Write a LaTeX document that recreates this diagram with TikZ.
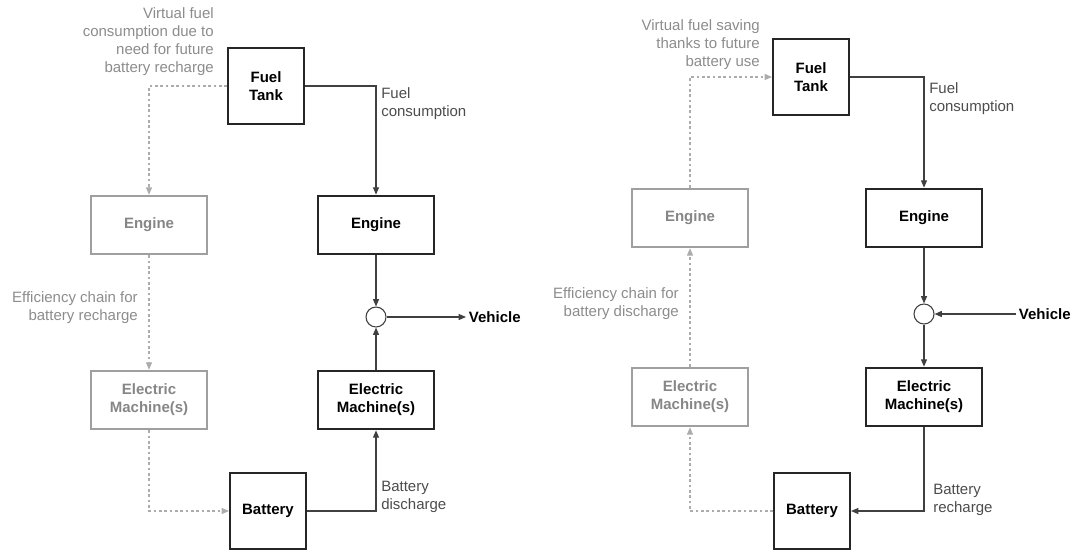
\documentclass[tikz,border=0pt]{standalone}
\usepackage{fontspec}
\setmainfont{Liberation Sans}
\usetikzlibrary{arrows.meta}

\begin{document}
\begin{tikzpicture}[x=0.75pt,y=-0.75pt,
  font=\fontsize{11.25}{13.5}\selectfont,
  >={Triangle[length=5.5pt,width=4.5pt]},
  blk/.style={draw=black!85,line width=1.5pt,align=center,inner sep=0pt,
    font=\fontsize{11.25}{13.5}\selectfont\bfseries},
  gblk/.style={blk,draw=gray!75,text=gray!95,line width=1.4pt},
  sq/.style={minimum width=57pt,minimum height=57pt},
  wide/.style={minimum width=87pt,minimum height=44pt},
  flow/.style={draw=black!75,line width=0.8pt,->},
  vflow/.style={draw=gray!65,line width=0.8pt,dash pattern=on 2pt off 2pt,->},
  lbl/.style={text=black!70,align=left,anchor=west,inner sep=0pt},
  glbl/.style={text=gray!90,align=right,anchor=east,inner sep=0pt},
  sum/.style={circle,draw=black!75,line width=0.8pt,minimum size=15pt,inner sep=0pt},
  veh/.style={anchor=west,inner sep=2pt,font=\fontsize{11.25}{13.5}\selectfont\bfseries}]
\useasboundingbox (0,0) rectangle (1077,550);

% Recharge case (left)
\node[blk,sq] (tankL) at (266,86) {Fuel\\Tank};
\node[gblk,wide] (engGL) at (149,225) {Engine};
\node[blk,wide] (engL) at (376,225) {Engine};
\node[sum] (sumL) at (376,317) {};
\node[veh] (vehL) at (466,317) {Vehicle};
\node[gblk,wide] (emGL) at (149,400) {Electric\\Machine(s)};
\node[blk,wide] (emL) at (376,400) {Electric\\Machine(s)};
\node[blk,sq] (batL) at (268,511) {Battery};

\node[glbl] (vcL) at (214,42) {Virtual fuel\\consumption due to\\need for future\\battery recharge};
\node[lbl] (fcL) at (381,104) {Fuel\\consumption};
\node[glbl] (ecL) at (138,308) {Efficiency chain for\\battery recharge};
\node[lbl] (bdL) at (381,497) {Battery\\discharge};

\draw[vflow] (tankL.west) -| (engGL.north);
\draw[flow] (tankL.east) -| (engL.north);
\draw[flow] (engL) -- (sumL);
\draw[flow] (sumL) -- (vehL.west);
\draw[flow] (emL) -- (sumL);
\draw[vflow] (engGL) -- (emGL);
\draw[vflow] (emGL.south) |- (batL.west);
\draw[flow] (batL.east) -| (emL.south);

% Discharge case (right)
\node[blk,sq] (tankR) at (811,77) {Fuel\\Tank};
\node[gblk,wide] (engGR) at (690,218) {Engine};
\node[blk,wide] (engR) at (924,218) {Engine};
\node[sum] (sumR) at (924,314) {};
\node[veh] (vehR) at (1016,314) {Vehicle};
\node[gblk,wide] (emGR) at (690,397) {Electric\\Machine(s)};
\node[blk,wide] (emR) at (924,397) {Electric\\Machine(s)};
\node[blk,sq] (batR) at (812,511) {Battery};

\node[glbl] (vsR) at (760,45) {Virtual fuel saving\\thanks to future\\battery use};
\node[lbl] (fcR) at (929,99) {Fuel\\consumption};
\node[glbl] (ecR) at (679,304) {Efficiency chain for\\battery discharge};
\node[lbl] (brR) at (933,500) {Battery\\recharge};

\draw[vflow] (engGR.north) |- (tankR.west);
\draw[flow] (tankR.east) -| (engR.north);
\draw[flow] (engR) -- (sumR);
\draw[flow] (vehR.west) -- (sumR);
\draw[flow] (sumR) -- (emR);
\draw[vflow] (emGR) -- (engGR);
\draw[vflow] (batR.west) -| (emGR.south);
\draw[flow] (emR.south) |- (batR.east);
\end{tikzpicture}
\end{document}
